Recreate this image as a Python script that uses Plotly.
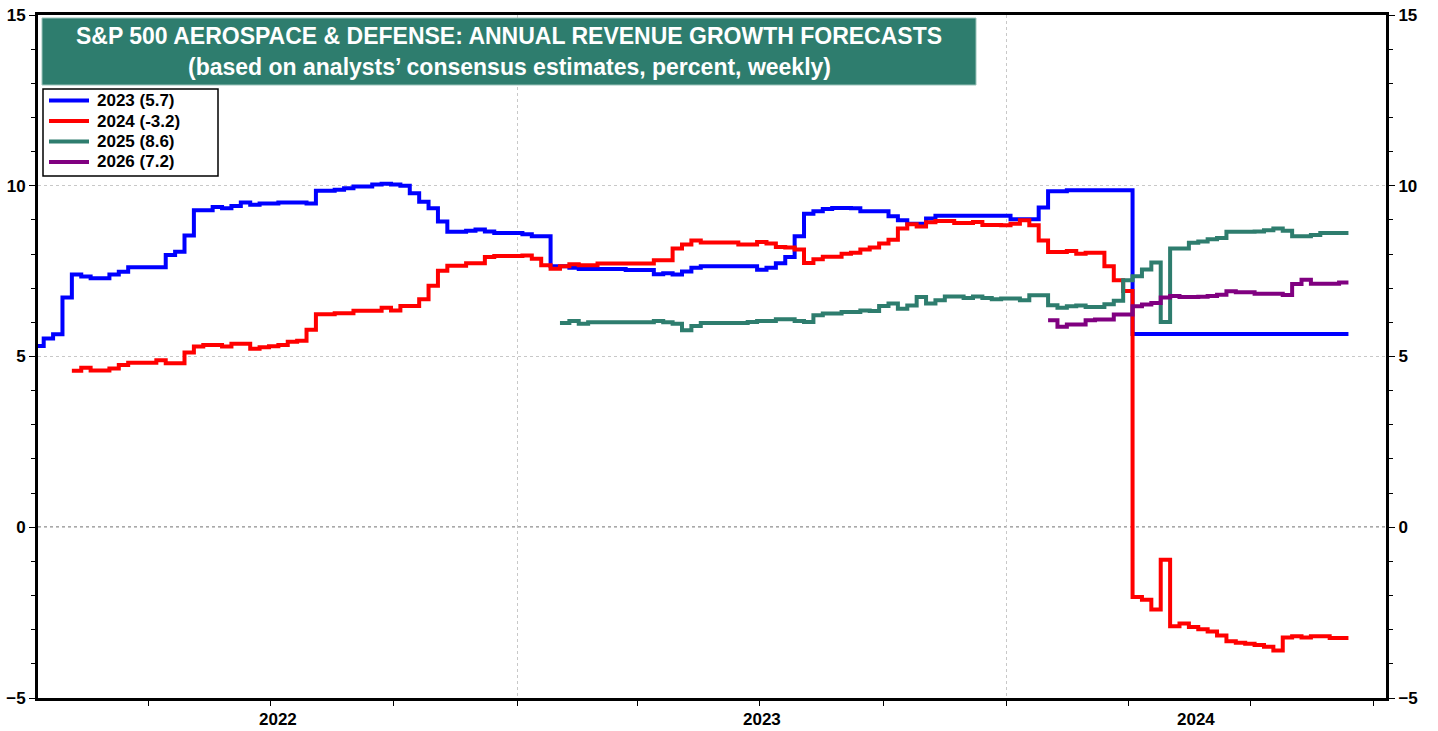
import pandas as pd
import plotly.graph_objects as go

# ---------------- data (weekly) ----------------
weeks = pd.date_range("2022-01-06", periods=141, freq="7D")

fy2023 = [5.31, 5.53, 5.65, 6.73, 7.40, 7.34, 7.29, 7.29, 7.40, 7.48,
          7.61, 7.61, 7.61, 7.61, 7.97, 8.07, 8.54, 9.28, 9.28, 9.38,
          9.34, 9.41, 9.51, 9.44, 9.48, 9.48, 9.51, 9.51, 9.51, 9.48,
          9.85, 9.85, 9.88, 9.93, 9.98, 9.98, 10.04, 10.06, 10.04, 10.00,
          9.78, 9.53, 9.34, 8.95, 8.65, 8.65, 8.68, 8.72, 8.66, 8.62,
          8.62, 8.62, 8.58, 8.52, 8.52, 7.64, 7.64, 7.60, 7.56, 7.56,
          7.56, 7.56, 7.56, 7.53, 7.53, 7.53, 7.41, 7.44, 7.40, 7.49,
          7.60, 7.64, 7.64, 7.64, 7.64, 7.64, 7.64, 7.54, 7.60, 7.73,
          7.91, 8.52, 9.18, 9.25, 9.32, 9.35, 9.35, 9.34, 9.25, 9.25,
          9.25, 9.11, 8.99, 8.89, 8.89, 9.04, 9.12, 9.12, 9.12, 9.12,
          9.12, 9.12, 9.12, 9.12, 9.02, 9.02, 9.02, 9.36, 9.84, 9.84,
          9.87, 9.87, 9.87, 9.87, 9.87, 9.87, 9.87, 5.66, 5.66, 5.66,
          5.66, 5.66, 5.66, 5.66, 5.66, 5.66, 5.66, 5.66, 5.66, 5.66,
          5.66, 5.66, 5.66, 5.66, 5.66, 5.66, 5.66, 5.66, 5.66, 5.66,
          5.66]

fy2024 = [None, None, None, None, 4.58, 4.67, 4.59, 4.59, 4.65, 4.75,
          4.82, 4.82, 4.82, 4.89, 4.80, 4.80, 5.12, 5.29, 5.34, 5.34,
          5.29, 5.37, 5.37, 5.23, 5.27, 5.30, 5.34, 5.43, 5.46, 5.78,
          6.24, 6.24, 6.27, 6.27, 6.34, 6.34, 6.34, 6.43, 6.35, 6.48,
          6.48, 6.68, 7.07, 7.51, 7.66, 7.66, 7.73, 7.73, 7.91, 7.94,
          7.94, 7.94, 7.96, 7.86, 7.67, 7.57, 7.64, 7.70, 7.67, 7.67,
          7.72, 7.72, 7.72, 7.72, 7.72, 7.72, 7.82, 7.82, 8.16, 8.28,
          8.40, 8.34, 8.34, 8.34, 8.34, 8.28, 8.28, 8.35, 8.31, 8.21,
          8.19, 8.13, 7.74, 7.85, 7.92, 7.92, 8.01, 8.04, 8.13, 8.19,
          8.31, 8.42, 8.75, 8.87, 8.81, 8.93, 8.97, 8.97, 8.91, 8.91,
          8.94, 8.85, 8.85, 8.84, 8.89, 8.99, 8.84, 8.40, 8.06, 8.06,
          8.09, 8.01, 8.04, 8.04, 7.64, 7.23, 6.92, -2.04, -2.12, -2.41,
          -0.95, -2.90, -2.82, -2.92, -2.99, -3.05, -3.17, -3.34, -3.38, -3.41,
          -3.45, -3.50, -3.61, -3.23, -3.19, -3.23, -3.19, -3.19, -3.24, -3.24,
          -3.24]

fy2025 = [None] * 56 + [
          5.98, 6.04, 5.96, 6.00,
          6.00, 6.00, 6.00, 6.00, 6.00, 6.00, 6.04, 6.00, 5.96, 5.77,
          5.89, 5.98, 5.98, 5.98, 5.98, 5.98, 6.01, 6.04, 6.04, 6.09,
          6.09, 6.04, 6.01, 6.21, 6.26, 6.26, 6.30, 6.30, 6.35, 6.33,
          6.48, 6.55, 6.40, 6.49, 6.74, 6.55, 6.65, 6.76, 6.76, 6.71,
          6.76, 6.71, 6.68, 6.70, 6.70, 6.65, 6.79, 6.79, 6.50, 6.43,
          6.47, 6.49, 6.45, 6.45, 6.53, 6.63, 7.23, 7.35, 7.55, 7.75,
          6.01, 8.16, 8.16, 8.33, 8.37, 8.43, 8.47, 8.65, 8.65, 8.65,
          8.66, 8.70, 8.75, 8.68, 8.52, 8.52, 8.56, 8.62, 8.62, 8.62,
          8.62]

fy2026 = [None] * 108 + [
          6.06, 5.87,
          5.94, 5.94, 6.06, 6.08, 6.08, 6.23, 6.23, 6.47, 6.52, 6.57,
          6.73, 6.77, 6.74, 6.74, 6.75, 6.77, 6.81, 6.91, 6.88, 6.88,
          6.84, 6.84, 6.84, 6.80, 7.12, 7.25, 7.13, 7.13, 7.13, 7.17,
          7.17]

series_years = ["2023", "2024", "2025", "2026"]
series_values = [fy2023, fy2024, fy2025, fy2026]
series_colors = ["#0000FF", "#FF0000", "#2E7D6E", "#800080"]

title_line1 = "S&P 500 AEROSPACE & DEFENSE: ANNUAL REVENUE GROWTH FORECASTS"
title_line2 = "(based on analysts\u2019 consensus estimates, percent, weekly)"

x_start = pd.Timestamp("2022-01-08 18:00")
x_end = pd.Timestamp("2024-10-10")
year_labels = [2022, 2023, 2024]
quarter_ticks = pd.date_range("2022-04-01", "2024-10-01", freq="QS")
year_ticks = [pd.Timestamp("2023-01-01"), pd.Timestamp("2024-01-01")]

FONT = "Arial, Liberation Sans, sans-serif"
TEAL = "#2E7D6E"

# page-pixel -> paper helpers (plot area: x 38..1386, y 15..698)
PL, PR, PT, PB = 38.0, 1386.0, 15.0, 698.0
def px(x):
    return (x - PL) / (PR - PL)
def py(y):
    return 1 - (y - PT) / (PB - PT)

# ---------------- figure ----------------
fig = go.Figure()
labels = []
for yr, vals, col in zip(series_years, series_values, series_colors):
    last = [v for v in vals if v is not None][-1]
    name = f"{yr} ({last:.1f})"
    labels.append(name)
    fig.add_trace(go.Scatter(
        x=weeks, y=vals, mode="lines", name=name,
        line=dict(color=col, width=4, shape="hv"),
        connectgaps=False, showlegend=False,
    ))

# helper trace so the right-hand axis is drawn
fig.add_trace(go.Scatter(x=[weeks[0]], y=[None], yaxis="y2",
                         showlegend=False, hoverinfo="skip"))

tickfont = dict(family=FONT, size=17, color="black", weight="bold")

fig.update_layout(
    width=1438, height=731,
    margin=dict(l=38, r=52, t=15, b=33, autoexpand=False),
    paper_bgcolor="white", plot_bgcolor="white",
    showlegend=False,
    xaxis=dict(
        range=[x_start, x_end], type="date",
        tickmode="array", tickvals=year_ticks, ticktext=["", ""],
        ticks="outside", ticklen=8, tickwidth=1, tickcolor="black",
        showgrid=True, gridcolor="#c8c8c8", griddash="dot", gridwidth=1,
        minor=dict(tickmode="array", tickvals=list(quarter_ticks),
                   ticks="outside", ticklen=5, tickcolor="black",
                   showgrid=False),
        showline=True, linecolor="black", linewidth=3, mirror=True,
        zeroline=False, automargin=False,
    ),
    yaxis=dict(
        range=[-5, 15], tickmode="linear", tick0=-5, dtick=5,
        ticks="outside", ticklen=6, tickcolor="black", tickfont=tickfont,
        ticklabeloverflow="allow",
        minor=dict(dtick=1, ticks="outside", ticklen=4, tickcolor="black",
                   showgrid=False),
        showgrid=True, gridcolor="#c8c8c8", griddash="dot", gridwidth=1,
        showline=True, linecolor="black", linewidth=3,
        zeroline=False, automargin=False,
    ),
    yaxis2=dict(
        range=[-5, 15], tickmode="linear", tick0=-5, dtick=5,
        overlaying="y", side="right", anchor="x",
        ticks="outside", ticklen=6, tickcolor="black", tickfont=tickfont,
        ticklabeloverflow="allow",
        minor=dict(dtick=1, ticks="outside", ticklen=4, tickcolor="black",
                   showgrid=False),
        showgrid=False, showline=True, linecolor="black", linewidth=3,
        zeroline=False, automargin=False,
    ),
)

# zero line (dotted, darker)
fig.add_shape(type="line", xref="paper", yref="y", x0=0, x1=1, y0=0, y1=0,
              line=dict(color="#555555", width=1.5, dash="dot"), layer="below")

# title box
fig.add_shape(type="rect", xref="paper", yref="paper",
              x0=px(42), x1=px(976), y0=py(85), y1=py(18),
              fillcolor=TEAL, line=dict(color="#9cc4bb", width=1), layer="above")
fig.add_annotation(xref="paper", yref="paper", x=px(509), y=py(36),
                   text=title_line1, showarrow=False,
                   xanchor="center", yanchor="middle",
                   font=dict(family=FONT, size=23, color="white", weight="bold"))
fig.add_annotation(xref="paper", yref="paper", x=px(509), y=py(67),
                   text=title_line2, showarrow=False,
                   xanchor="center", yanchor="middle",
                   font=dict(family=FONT, size=23, color="white", weight="bold"))

# legend box (drawn to match the original's compact key)
fig.add_shape(type="rect", xref="paper", yref="paper",
              x0=px(43), x1=px(218), y0=py(176), y1=py(89),
              fillcolor="white", line=dict(color="black", width=1.5), layer="above")
for i, (name, col) in enumerate(zip(labels, series_colors)):
    yy = 100.5 + i * 20.5
    fig.add_shape(type="line", xref="paper", yref="paper",
                  x0=px(49), x1=px(89), y0=py(yy), y1=py(yy),
                  line=dict(color=col, width=4), layer="above")
    fig.add_annotation(xref="paper", yref="paper", x=px(95), y=py(yy),
                       text=name, showarrow=False,
                       xanchor="left", yanchor="middle",
                       font=dict(family=FONT, size=17, color="black", weight="bold"))

# year labels centred on the visible part of each year
for yr in year_labels:
    a = max(x_start, pd.Timestamp(f"{yr}-01-01"))
    b = min(x_end, pd.Timestamp(f"{yr + 1}-01-01"))
    fig.add_annotation(xref="x", yref="paper", x=a + (b - a) / 2, y=-0.031,
                       text=str(yr), showarrow=False,
                       xanchor="center", yanchor="middle",
                       font=dict(family=FONT, size=17, color="black", weight="bold"))

# the page has no body margin so the 1438x731 figure fills the window exactly
fig.write_html("out.html",
               config={"displayModeBar": False, "staticPlot": True},
               post_script="document.body.style.margin='0';"
                           "document.body.style.overflow='hidden';")
